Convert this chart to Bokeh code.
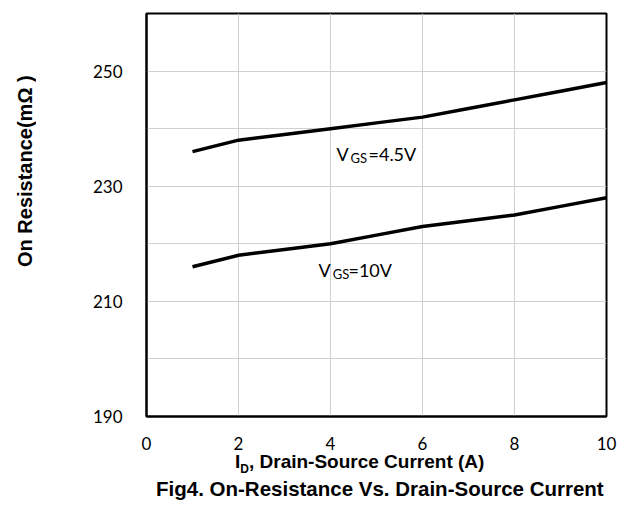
from bokeh.plotting import figure
from bokeh.models import Label, FixedTicker, Div
from bokeh.layouts import column, row
from bokeh.embed import file_html
from bokeh.resources import INLINE

# data
current_a = [1, 2, 3, 4, 5, 6, 7, 8, 9, 10]
rds_vgs45 = [236, 238, 239, 240, 241, 242, 243.5, 245, 246.5, 248]
rds_vgs10 = [216, 218, 219, 220, 221.5, 223, 224, 225, 226.5, 228]
x_ticks = [0, 2, 4, 6, 8, 10]
y_ticks = [190, 200, 210, 220, 230, 240, 250, 260]
y_tick_labels = {190: "190", 200: "", 210: "210", 220: "", 230: "230", 240: "", 250: "250", 260: ""}

TITLE_W = 40
p = figure(width=617 - TITLE_W, height=452, x_range=(0, 10), y_range=(190, 260),
           output_backend="svg", toolbar_location=None, margin=0,
           min_border_left=146 - TITLE_W, min_border_right=11, min_border_top=13, min_border_bottom=32)

p.line(current_a, rds_vgs45, line_color="black", line_width=3.5)
p.line(current_a, rds_vgs10, line_color="black", line_width=3.5)

p.xaxis.ticker = FixedTicker(ticks=x_ticks)
p.yaxis.ticker = FixedTicker(ticks=y_ticks)
p.yaxis.major_label_overrides = y_tick_labels
for ax in (p.xaxis, p.yaxis):
    ax.major_tick_line_color = None
    ax.minor_tick_line_color = None
    ax.axis_line_color = "black"
    ax.axis_line_width = 2
    ax.major_label_text_font = "Lato"
    ax.major_label_text_font_size = "17px"
    ax.major_label_text_color = "black"
p.xaxis.major_label_standoff = 14
p.yaxis.major_label_standoff = 18

p.grid.grid_line_color = "#d0d0d0"
p.grid.grid_line_width = 1
p.outline_line_color = "black"
p.outline_line_width = 2
p.background_fill_color = "white"
p.border_fill_color = "white"

def lab(x, y, t, size):
    p.add_layout(Label(x=x, y=y, text=t, text_font="Lato", text_font_size=size,
                       text_align="left", text_baseline="alphabetic", text_color="black"))

# curve annotations
lab(4.13, 235.58, "V", "18px")
lab(4.435, 234.9, "GS", "13px")
lab(4.826, 235.58, "=4.5V", "18px")
lab(3.739, 215.41, "V", "18px")
lab(4.05, 214.72, "GS", "13px")
lab(4.391, 215.41, "=10V", "18px")

af = "'Liberation Sans', Arial, sans-serif"
ytitle = Div(width=TITLE_W, height=452, margin=0, text=(
    '<div style="position:relative;width:40px;height:452px;">'
    '<div style="position:absolute;left:15px;top:60px;height:223px;width:20px;line-height:20px;'
    'writing-mode:vertical-rl;transform:rotate(180deg);text-align:center;white-space:nowrap;'
    'font-family:' + af + ';font-weight:bold;font-size:20px;color:black;">'
    'On Resistance(mΩ )</div></div>'))

caption = Div(width=617, height=60, margin=0, text=(
    '<div style="position:relative;width:617px;height:60px;font-family:' + af + ';font-weight:bold;color:black;">'
    '<div style="position:absolute;left:235px;top:0px;font-size:19px;line-height:19px;white-space:nowrap;">'
    'I<sub style="font-size:12px;line-height:0;">D</sub>, Drain-Source Current (A)</div>'
    '<div style="position:absolute;left:156px;top:27px;font-size:20.5px;line-height:20px;white-space:nowrap;">'
    'Fig4. On-Resistance Vs. Drain-Source Current</div>'
    '</div>'))

layout = column(row(ytitle, p, spacing=0, margin=0), caption, spacing=0, margin=0)
open("out.html", "w").write(file_html(layout, INLINE))
